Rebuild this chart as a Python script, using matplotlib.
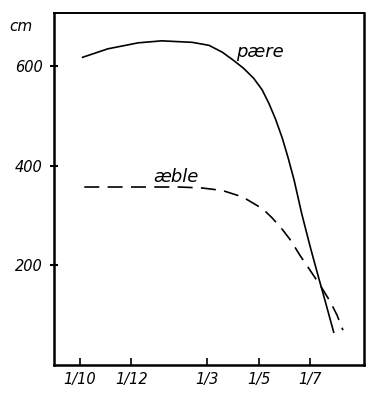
import numpy as np
import matplotlib.pyplot as plt

# days counted from 1 October
tick_days = [0, 61, 151, 212, 273]
tick_labels = ['1/10', '1/12', '1/3', '1/5', '1/7']
y_ticks = [200, 400, 600]

# pære (pear) - solid line
pear_days = [3, 33, 69, 97, 133, 153, 169, 182, 194, 206, 216, 224, 232, 240, 247, 254,
             263, 273, 283, 289, 295, 301]
pear_cm = [617, 634, 646, 650, 647, 641, 627, 611, 595, 575, 552, 525, 493, 455, 415, 371,
           304, 238, 176, 140, 103, 66]

# æble (apple) - dashed line
apple_days = [5, 65, 118, 145, 169, 193, 217, 228, 240, 250, 261, 273, 285, 297, 305, 312]
apple_cm = [357, 357, 357, 355, 350, 337, 313, 295, 272, 250, 220, 190, 160, 127, 100, 70]

fig = plt.figure(figsize=(3.91, 4.03), dpi=100)
ax = fig.add_axes([0.138, 0.094, 0.793, 0.874])

ax.plot(pear_days, pear_cm, color='black', lw=1.2)
ax.plot(apple_days, apple_cm, color='black', lw=1.2, dashes=(9, 5))

ax.set_xlim(-31, 337)
ax.set_ylim(0, 706)

ax.set_xticks(tick_days)
ax.set_xticklabels(tick_labels, fontstyle='italic', fontsize=10.5)
ax.set_yticks(y_ticks)
ax.set_yticklabels([str(v) for v in y_ticks], fontstyle='italic', fontsize=10.5)
ax.tick_params(axis='x', direction='in', length=5, width=1.2, pad=5)
ax.tick_params(axis='y', direction='inout', length=6, width=1.5, pad=5)

for side in ['left', 'bottom', 'right']:
    ax.spines[side].set_linewidth(1.8)
ax.spines['top'].set_linewidth(1.4)

ax.text(-0.105, 0.96, 'cm', transform=ax.transAxes, fontsize=11,
        fontstyle='italic', ha='center', va='center')
ax.text(185, 628, 'pære', fontsize=13, fontstyle='italic', ha='left', va='center')
ax.text(87, 377, 'æble', fontsize=13, fontstyle='italic', ha='left', va='center')

plt.savefig('out.png', dpi=100)
